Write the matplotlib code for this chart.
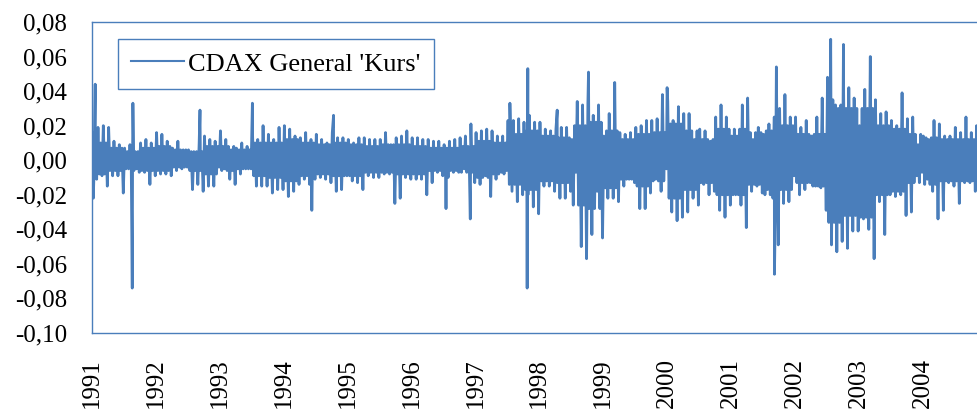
import numpy as np
import matplotlib
matplotlib.use("Agg")
import matplotlib.pyplot as plt

plt.rcParams['font.family'] = ['Liberation Serif', 'DejaVu Serif']

# monthly upper / lower extent of the daily returns, Jan 1991 .. Nov 2004
hi_1991 = [0.016, 0.019, 0.020, 0.019, 0.011, 0.009, 0.007, 0.009, 0.005, 0.010, 0.012, 0.010]
lo_1991 = [-0.011, -0.009, -0.015, -0.009, -0.009, -0.019, -0.005, -0.006, -0.007, -0.007, -0.014, -0.009]
hi_1992 = [0.016, 0.015, 0.011, 0.007, 0.011, 0.006, 0.006, 0.005, 0.010, 0.014, 0.012, 0.011]
lo_1992 = [-0.008, -0.008, -0.009, -0.006, -0.005, -0.004, -0.017, -0.014, -0.018, -0.015, -0.015, -0.004]
hi_1993 = [0.017, 0.012, 0.006, 0.007, 0.010, 0.008, 0.018, 0.012, 0.020, 0.015, 0.012, 0.019]
lo_1993 = [-0.005, -0.011, -0.014, -0.008, -0.005, -0.005, -0.015, -0.015, -0.015, -0.019, -0.017, -0.017]
hi_1994 = [0.020, 0.018, 0.014, 0.013, 0.016, 0.012, 0.015, 0.012, 0.010, 0.016, 0.013, 0.013]
lo_1994 = [-0.021, -0.018, -0.014, -0.011, -0.014, -0.011, -0.010, -0.011, -0.013, -0.018, -0.017, -0.009]
hi_1995 = [0.012, 0.010, 0.013, 0.013, 0.012, 0.012, 0.012, 0.016, 0.009, 0.013, 0.014, 0.017]
lo_1995 = [-0.012, -0.013, -0.017, -0.009, -0.010, -0.010, -0.008, -0.008, -0.025, -0.022, -0.010, -0.011]
hi_1996 = [0.013, 0.013, 0.012, 0.012, 0.011, 0.011, 0.009, 0.011, 0.012, 0.013, 0.014, 0.015]
lo_1996 = [-0.011, -0.011, -0.020, -0.013, -0.007, -0.009, -0.010, -0.007, -0.007, -0.005, -0.007, -0.013]
hi_1997 = [0.016, 0.017, 0.018, 0.017, 0.014, 0.014, 0.023, 0.023, 0.024, 0.022, 0.026, 0.022]
lo_1997 = [-0.014, -0.009, -0.021, -0.011, -0.007, -0.006, -0.018, -0.024, -0.020, -0.020, -0.027, -0.031]
hi_1998 = [0.022, 0.018, 0.017, 0.018, 0.019, 0.019, 0.012, 0.034, 0.032, 0.033, 0.026, 0.032]
lo_1998 = [-0.015, -0.015, -0.018, -0.022, -0.022, -0.018, -0.007, -0.050, -0.057, -0.043, -0.018, -0.045]
hi_1999 = [0.014, 0.027, 0.026, 0.016, 0.015, 0.016, 0.019, 0.020, 0.023, 0.023, 0.024, 0.038]
lo_1999 = [-0.022, -0.022, -0.024, -0.015, -0.011, -0.013, -0.028, -0.028, -0.019, -0.011, -0.018, -0.005]
hi_2000 = [0.034, 0.023, 0.031, 0.027, 0.027, 0.012, 0.018, 0.017, 0.011, 0.025, 0.032, 0.025]
lo_2000 = [-0.030, -0.035, -0.033, -0.030, -0.022, -0.026, -0.014, -0.020, -0.018, -0.029, -0.033, -0.026]
hi_2001 = [0.014, 0.014, 0.032, 0.036, 0.012, 0.019, 0.015, 0.021, 0.025, 0.030, 0.038, 0.025]
lo_2001 = [-0.020, -0.026, -0.039, -0.018, -0.015, -0.019, -0.017, -0.022, -0.049, -0.025, -0.024, -0.009]
hi_2002 = [0.025, 0.019, 0.023, 0.014, 0.025, 0.036, 0.048, 0.035, 0.030, 0.047, 0.042, 0.036]
lo_2002 = [-0.020, -0.017, -0.013, -0.015, -0.016, -0.029, -0.049, -0.053, -0.047, -0.051, -0.041, -0.041]
hi_2003 = [0.020, 0.041, 0.053, 0.035, 0.027, 0.028, 0.023, 0.020, 0.039, 0.024, 0.025, 0.009]
lo_2003 = [-0.034, -0.040, -0.057, -0.024, -0.043, -0.020, -0.021, -0.020, -0.032, -0.030, -0.009, -0.007]
hi_2004 = [0.014, 0.012, 0.023, 0.021, 0.014, 0.014, 0.019, 0.016, 0.025, 0.016, 0.020]
lo_2004 = [-0.011, -0.018, -0.034, -0.029, -0.013, -0.015, -0.025, -0.013, -0.013, -0.018, -0.015]

# quarterly extent of the dense core of the series, Q1 1991 .. Q4 2004
core_hi = [0.010, 0.007, 0.005, 0.007,  0.008, 0.006, 0.005, 0.008,  0.008, 0.006, 0.010, 0.010,
           0.012, 0.010, 0.009, 0.010,  0.009, 0.008, 0.009, 0.009,  0.008, 0.007, 0.007, 0.008,
           0.011, 0.010, 0.015, 0.017,  0.014, 0.013, 0.020, 0.022,  0.017, 0.012, 0.015, 0.016,
           0.021, 0.017, 0.012, 0.018,  0.018, 0.016, 0.017, 0.020,  0.015, 0.015, 0.032, 0.030,
           0.030, 0.020, 0.018, 0.015,  0.013, 0.012, 0.012, 0.012]
core_lo = [-0.008, -0.006, -0.005, -0.006,  -0.006, -0.004, -0.006, -0.008,  -0.006, -0.005, -0.009, -0.010,
           -0.012, -0.009, -0.008, -0.009,  -0.009, -0.007, -0.007, -0.008,  -0.008, -0.006, -0.006, -0.007,
           -0.010, -0.008, -0.014, -0.017,  -0.012, -0.013, -0.026, -0.028,  -0.016, -0.011, -0.015, -0.012,
           -0.022, -0.017, -0.013, -0.020,  -0.020, -0.014, -0.020, -0.017,  -0.013, -0.015, -0.036, -0.032,
           -0.033, -0.020, -0.018, -0.013,  -0.014, -0.012, -0.012, -0.012]

# single-day outliers (date as fractional year, return)
spike_t = [1991.02, 1991.05, 1991.63, 1991.64, 1992.69, 1993.51, 1994.44, 1994.78,
           1996.54, 1996.92, 1996.93, 1997.54, 1997.81, 1997.82, 1998.28, 1998.77,
           1999.18, 2000.00, 2001.68, 2001.71, 2002.56, 2002.76, 2003.18]
spike_v = [-0.022, 0.044, -0.074, 0.033, 0.029, 0.033, -0.029, 0.026,
           -0.028, -0.034, 0.021, 0.033, -0.074, 0.053, 0.029, 0.051,
           0.045, 0.042, -0.066, 0.054, 0.070, 0.067, 0.060]

years = list(range(1991, 2005))
label = "CDAX General 'Kurs'"

hi = sum([hi_1991, hi_1992, hi_1993, hi_1994, hi_1995, hi_1996, hi_1997,
          hi_1998, hi_1999, hi_2000, hi_2001, hi_2002, hi_2003, hi_2004], [])
lo = sum([lo_1991, lo_1992, lo_1993, lo_1994, lo_1995, lo_1996, lo_1997,
          lo_1998, lo_1999, lo_2000, lo_2001, lo_2002, lo_2003, lo_2004], [])

# each month: its high, the quarter's core low / high, its low
m = np.arange(len(hi))
cq_hi = np.array(core_hi)[m // 3]
cq_lo = np.array(core_lo)[m // 3]
t = np.concatenate([1991 + (m + 0.125) / 12, 1991 + (m + 0.375) / 12,
                    1991 + (m + 0.625) / 12, 1991 + (m + 0.875) / 12, spike_t])
v = np.concatenate([hi, cq_lo, cq_hi, lo, spike_v])
order = np.argsort(t, kind='stable')
t, v = t[order], v[order]

blue = '#4a7ebb'
W, H = 977, 415
fig = plt.figure(figsize=(W / 100, H / 100), dpi=100)
ax = fig.add_axes([92 / W, (H - 333) / H, (W - 92) / W, 311 / H])

ax.plot(t, v, color=blue, lw=2.0, label=label)

ax.set_xlim(1991, 1991 + (W - 92) / 63.9)
ax.set_ylim(-0.10, 0.08)
yt = np.arange(-0.10, 0.081, 0.02)
ax.set_yticks(yt)
ax.set_yticklabels([f"{y:.2f}".replace('.', ',').replace('-0,00', '0,00') for y in yt])
ax.set_xticks(years)
ax.set_xticklabels([str(y) for y in years], rotation=90)
ax.tick_params(length=0, labelsize=18, colors='black')
ax.tick_params(axis='y', pad=18)
ax.tick_params(axis='x', pad=18)

for s in ['left', 'top', 'bottom']:
    ax.spines[s].set_color(blue)
    ax.spines[s].set_linewidth(1.0)
ax.spines['right'].set_visible(False)

leg = ax.legend(loc='upper left', bbox_to_anchor=(118 / W, (H - 39) / H),
                bbox_transform=fig.transFigure, fontsize=19, fancybox=False,
                edgecolor=blue, framealpha=1, handlelength=2.0, handletextpad=0.15,
                borderpad=0.5, borderaxespad=0)
leg.get_frame().set_linewidth(1.0)
leg.get_lines()[0].set_linewidth(1.5)
for text in leg.get_texts():
    text.set_color('black')

fig.savefig('out.png', dpi=100)
